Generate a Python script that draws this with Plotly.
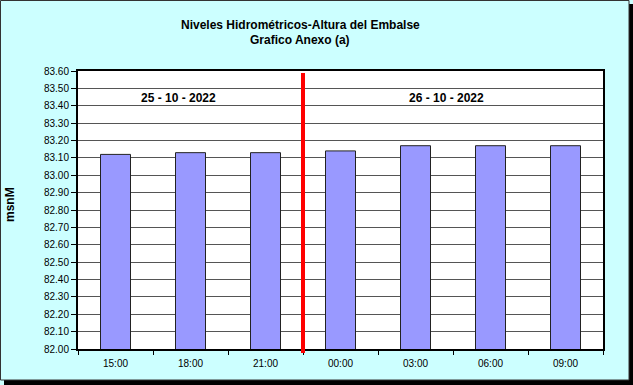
import plotly.graph_objects as go

categories = ["15:00", "18:00", "21:00", "00:00", "03:00", "06:00", "09:00"]
values = [83.12, 83.13, 83.13, 83.14, 83.17, 83.17, 83.17]
day_labels = ["25 - 10 - 2022", "26 - 10 - 2022"]
y_ticks = [round(82.0 + 0.1 * i, 2) for i in range(17)]
title_lines = ["Niveles Hidrométricos-Altura del Embalse", "Grafico Anexo (a)"]
y_title = "msnM"

W, H = 633, 385
L, R, T, B = 78, 30, 71, 36
pw, ph = W - L - R, H - T - B

def px_x(p):
    return (p - L) / pw

def px_y(p):
    return 1 - (p - T) / ph

font = "Liberation Sans, Arial, sans-serif"

fig = go.Figure()
fig.add_trace(go.Bar(
    x=categories, y=values,
    marker=dict(color="#9999FF", line=dict(color="#222222", width=1)),
    width=0.4,
))

fig.update_layout(
    width=W, height=H,
    margin=dict(l=L, r=R, t=T, b=B),
    paper_bgcolor="#CCFFFF",
    plot_bgcolor="#FFFFFF",
    showlegend=False,
    font=dict(family=font, size=10, color="#000000"),
    xaxis=dict(
        type="category",
        showgrid=False,
        ticks="outside", ticklen=4, tickcolor="#000", tickson="boundaries",
        showline=True, linecolor="#000", linewidth=2, mirror=True,
        tickfont=dict(size=10),
        ticklabelstandoff=4,
    ),
    yaxis=dict(
        range=[82.0, 83.6],
        tickvals=y_ticks,
        ticktext=[f"{v:.2f}" for v in y_ticks],
        showgrid=True, gridcolor="#555555", gridwidth=1,
        ticks="outside", ticklen=5, tickcolor="#000",
        showline=True, linecolor="#000", linewidth=2, mirror=True,
        tickfont=dict(size=10),
        zeroline=False,
    ),
)

# titles
fig.add_annotation(text="<b>" + title_lines[0] + "</b>", xref="paper", yref="paper",
                   x=px_x(300), y=px_y(25), xanchor="center", yanchor="middle",
                   showarrow=False, font=dict(size=12))
fig.add_annotation(text="<b>" + title_lines[1] + "</b>", xref="paper", yref="paper",
                   x=px_x(300), y=px_y(40), xanchor="center", yanchor="middle",
                   showarrow=False, font=dict(size=12))
fig.add_annotation(text="<b>" + y_title + "</b>", xref="paper", yref="paper",
                   x=px_x(10), y=px_y(205), xanchor="center", yanchor="middle",
                   textangle=-90, showarrow=False, font=dict(size=12))

# red separator line between days
fig.add_shape(type="line", xref="x", yref="paper",
              x0=2.5, x1=2.5, y0=px_y(353), y1=px_y(73),
              line=dict(color="#FF0000", width=4))

# day labels
fig.add_annotation(text="<b>" + day_labels[0] + "</b>", xref="paper", yref="paper",
                   x=px_x(178), y=px_y(98), xanchor="center", yanchor="middle",
                   showarrow=False, font=dict(size=12))
fig.add_annotation(text="<b>" + day_labels[1] + "</b>", xref="paper", yref="paper",
                   x=px_x(446), y=px_y(98), xanchor="center", yanchor="middle",
                   showarrow=False, font=dict(size=12))

# outer frame with shadow
fig.add_shape(type="rect", xref="paper", yref="paper",
              x0=px_x(629), x1=px_x(633), y0=px_y(385), y1=px_y(4),
              line=dict(width=0), fillcolor="#000000", layer="below")
fig.add_shape(type="rect", xref="paper", yref="paper",
              x0=px_x(4), x1=px_x(633), y0=px_y(385), y1=px_y(380),
              line=dict(width=0), fillcolor="#000000", layer="below")
fig.add_shape(type="rect", xref="paper", yref="paper",
              x0=px_x(0.5), x1=px_x(629), y0=px_y(380), y1=px_y(0.5),
              line=dict(color="#333333", width=1), fillcolor="rgba(0,0,0,0)", layer="below")

fig.write_html("out.html")
